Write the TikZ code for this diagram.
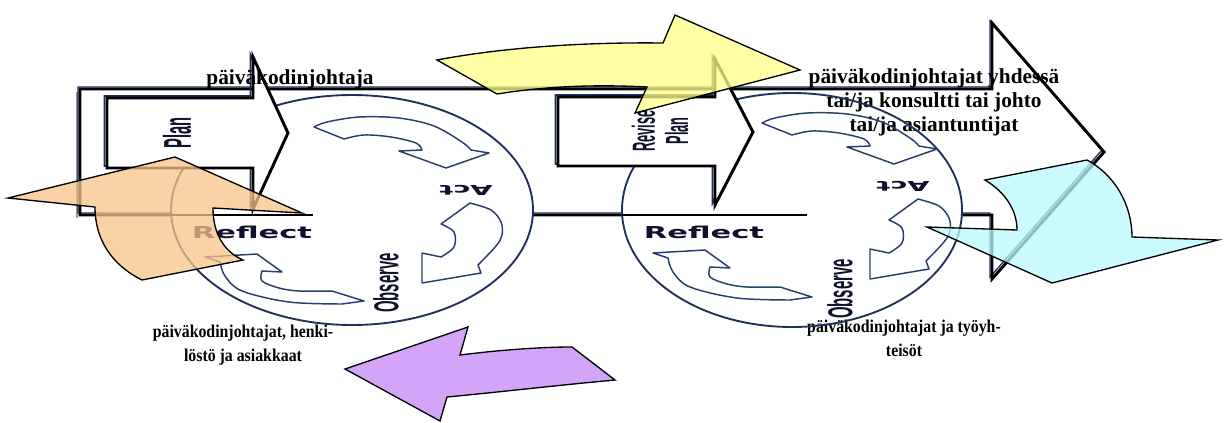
\documentclass[tikz,border=0pt]{standalone}
\usepackage{graphicx}
\usepackage{fontspec}
\setmainfont{Liberation Serif}
\newfontfamily\stagefont{Liberation Sans}
\newfontfamily\cyclefont{DejaVu Sans}
\definecolor{navy}{RGB}{30,48,92}
\definecolor{cyclenavy}{RGB}{40,62,112}
\definecolor{labelink}{RGB}{16,18,44}
\definecolor{shadowgrey}{RGB}{150,150,150}
\definecolor{peach}{RGB}{248,196,136}
\definecolor{lemon}{RGB}{255,255,135}
\definecolor{aqua}{RGB}{188,250,255}
\definecolor{lilac}{RGB}{195,135,248}

% the three curved arrows of one Plan-Act-Observe-Reflect cycle,
% given relative to the centre of the cycle (y grows downwards)
\newcommand{\cyclearrows}{%
  % Plan -> Act
  \draw[cyclearrow]
    plot[smooth,tension=0.55] coordinates {(-30,-87) (-17,-92) (15,-97) (55,-96) (90,-88) (118,-72) (127,-64)}
    -- (145,-61) -- (102,-46) -- (55,-63)
    -- plot[smooth,tension=0.55] coordinates {(78,-64) (72,-71) (47,-77) (20,-79) (0,-75)}
    -- cycle;
  % Act -> Observe
  \draw[cyclearrow]
    plot[smooth,tension=0.55] coordinates {(126,-11) (147,-4) (157,8) (158,21) (152,32) (134,51)}
    -- (137,59) -- (78,69) -- (78,39)
    -- plot[smooth,tension=0.55] coordinates {(97,43) (110,33) (110,18) (97,10)}
    -- cycle;
  % Observe -> Reflect
  \draw[cyclearrow]
    (-139,43) -- (-87,40) -- (-62,58)
    -- plot[smooth,tension=0.55] coordinates {(-82,57) (-82,67) (-65,74) (-45,77) (-12,77)}
    -- (20,87)
    -- plot[smooth,tension=0.55] coordinates {(-2,90) (-55,88) (-102,77) (-119,62) (-124,48)}
    -- cycle;
}
% one line of a narrow bottom caption
\newcommand{\narrowline}[1]{\scalebox{0.88}[1]{#1}}

\begin{document}
\begin{tikzpicture}[x=0.75pt,y=-0.75pt,
  bigline/.style={line width=2.2pt,black,line join=miter,miter limit=20},
  bigshadow/.style={line width=1pt,navy,line join=miter,miter limit=20},
  planbox/.style={line width=2.2pt,black,fill=white,line join=miter,miter limit=20},
  planshadow/.style={line width=1.4pt,navy,line join=miter,miter limit=20},
  ringline/.style={line width=1.4pt,navy},
  reflectline/.style={line width=1.5pt,black},
  cyclearrow/.style={line width=1.1pt,cyclenavy,line join=round},
  blockarrow/.style={line width=1pt,black,line join=miter,fill opacity=0.75},
  captiontext/.style={inner sep=0pt,align=center,text=black,font=\bfseries\fontsize{16}{18}\selectfont},
  smallcaption/.style={inner sep=0pt,align=center,text=black,font=\bfseries\fontsize{13.5}{18}\selectfont},
  narrowlabel/.style={inner sep=0pt,align=center,text=labelink,rotate=90,font=\stagefont\bfseries\fontsize{26}{25}\selectfont},
  widelabel/.style={inner sep=0pt,text=labelink,font=\cyclefont\bfseries\fontsize{12.3}{14}\selectfont},
]
\useasboundingbox (0,0) rectangle (1227,422);
\fill[white] (0,0) rectangle (1227,422);

% long outlined arrow carrying both cycles
\draw[shadowgrey,line width=1.5pt] (76.5,92) -- (76.5,218);
\draw[bigshadow,shift={(-2,-2)}] (80,215) -- (80,89) -- (992,89) -- (992,23) -- (1104,152) -- (992,279) -- (992,215) -- cycle;
\draw[bigline] (80,215) -- (80,89) -- (992,89) -- (992,23) -- (1104,152) -- (992,279) -- (992,215) -- cycle;

% cycle discs
\fill[white] (352,210) ellipse [x radius=181, y radius=115];
\fill[white] (792,210) ellipse [x radius=170, y radius=117];

% captions lying over the discs
\node[captiontext] (capTopRight) at (934,102)
  {päiväkodinjohtajat yhdessä\\tai/ja konsultti tai johto\\tai/ja asiantuntijat};
\node[smallcaption] (capBottomLeft) at (243,345)
  {\narrowline{päiväkodinjohtajat, henki-}\\\narrowline{löstö ja asiakkaat}};
\node[smallcaption] (capBottomRight) at (904,338)
  {\narrowline{päiväkodinjohtajat ja työyh-}\\\narrowline{teisöt}};

% first cycle
\draw[ringline] (352,210) ellipse [x radius=181, y radius=115];
\draw[reflectline] (171,215) -- (313,215);
\begin{scope}[shift={(344,214)}]
  \cyclearrows
\end{scope}
\node[widelabel] (reflectL) at (252,232) {\scalebox{1.86}[1]{Reflect}};
\node[widelabel,rotate=180,font=\cyclefont\bfseries\fontsize{10.3}{12}\selectfont] (actL) at (466,190) {\scalebox{2.1}[1]{Act}};
\node[narrowlabel] (observeL) at (386,283) {\scalebox{0.43}[1]{Observe}};

% second cycle
\draw[ringline] (792,210) ellipse [x radius=170, y radius=117];
\draw[reflectline] (622,215) -- (807,215);
\begin{scope}[shift={(792,210)}]
  \cyclearrows
\end{scope}
\node[widelabel] (reflectR) at (704,232) {\scalebox{1.86}[1]{Reflect}};
\node[widelabel,rotate=180,font=\cyclefont\bfseries\fontsize{10.3}{12}\selectfont] (actR) at (903,186) {\scalebox{2.1}[1]{Act}};
\node[narrowlabel] (observeR) at (840,289) {\scalebox{0.43}[1]{Observe}};

% plan arrows
\draw[planshadow,shift={(-2.5,-2)}] (107,98) -- (253,98) -- (253,57) -- (288,133) -- (253,209) -- (253,168) -- (107,168) -- cycle;
\draw[planbox] (107,98) -- (253,98) -- (253,57) -- (288,133) -- (253,209) -- (253,168) -- (107,168) -- cycle;
\node[narrowlabel,font=\stagefont\bfseries\fontsize{29}{29}\selectfont] (planL) at (177,133) {\scalebox{0.38}[1]{Plan}};

\draw[planshadow,shift={(-2.5,-2)}] (558,97) -- (715,97) -- (715,59) -- (753,132) -- (715,205) -- (715,166) -- (558,166) -- cycle;
\draw[planbox] (558,97) -- (715,97) -- (715,59) -- (753,132) -- (715,205) -- (715,166) -- (558,166) -- cycle;
\node[narrowlabel,font=\stagefont\bfseries\fontsize{24}{25}\selectfont] (planR) at (660,131)
  {\scalebox{0.4}[1]{Revise}\\\scalebox{0.4}[1]{Plan}};

\node[captiontext,anchor=base] (capTopLeft) at (290,84) {päiväkodinjohtaja};

% coloured block arrows between the cycles
\filldraw[blockarrow,fill=peach]
  (8,198) -- (175,157) -- (302,213) -- (213,208)
  .. controls (213,235) and (225,252) .. (243,260)
  -- (142,280) .. controls (112,265) and (95,240) .. (95,207) -- cycle;
\filldraw[blockarrow,fill=lemon]
  (437,60) .. controls (500,48) and (580,42) .. (663,43)
  -- (675,15) -- (800,70) -- (635,113) -- (647,87)
  .. controls (590,84) and (540,87) .. (497,94) -- cycle;
\filldraw[blockarrow,fill=aqua]
  (985,180) -- (1087,160) .. controls (1115,175) and (1132,205) .. (1132,237)
  -- (1218,240) -- (1052,283) -- (927,227) -- (1017,230)
  .. controls (1017,210) and (1005,192) .. (985,180) -- cycle;
\filldraw[blockarrow,fill=lilac]
  (345,369) -- (468,327) -- (460,355) .. controls (500,350) and (540,347) .. (572,347)
  -- (615,380) .. controls (560,385) and (500,392) .. (447,397)
  -- (440,421) -- cycle;
\end{tikzpicture}
\end{document}
